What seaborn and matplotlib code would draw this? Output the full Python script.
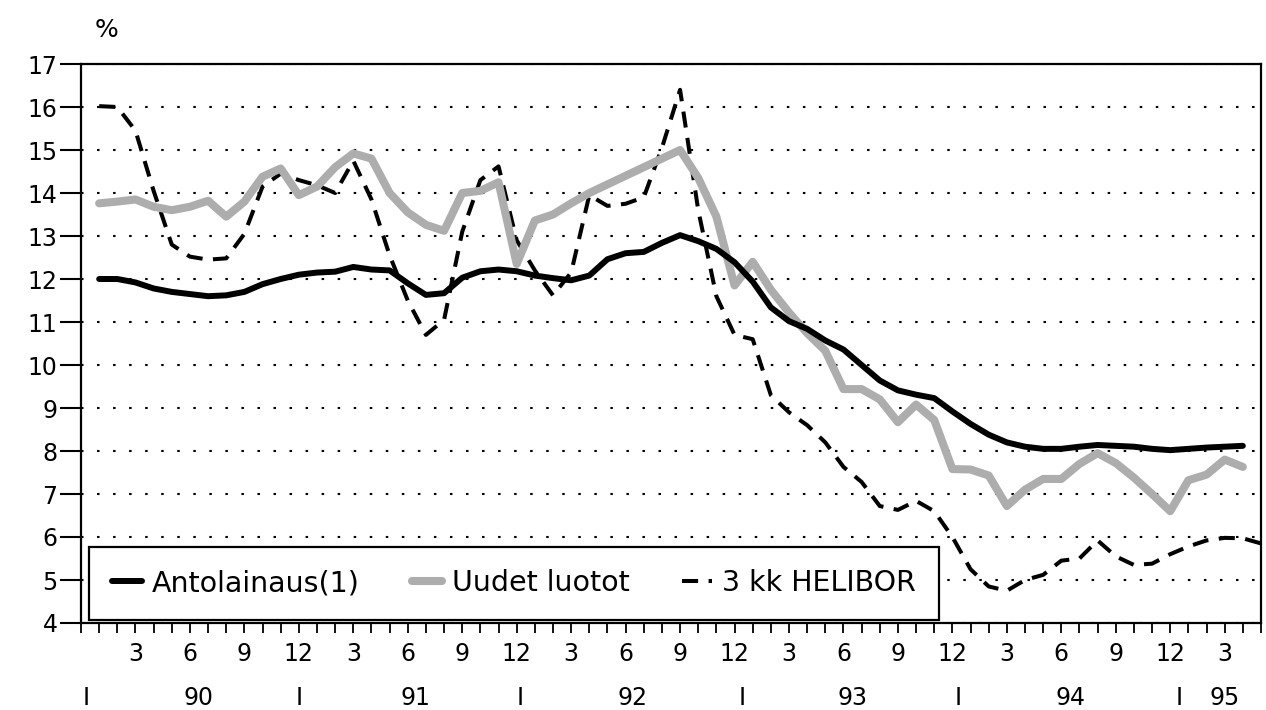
import numpy as np
import seaborn as sns
import matplotlib
matplotlib.use('Agg')
import matplotlib.pyplot as plt
from matplotlib.ticker import FixedLocator

# kuukausiarvot 1/1990 - 4/1995 (HELIBOR 5/1995 asti), %
antolainaus = [12.0, 12.0, 11.92, 11.78, 11.7, 11.65, 11.6, 11.62, 11.7, 11.88, 12.0, 12.1,
               12.15, 12.17, 12.28, 12.22, 12.2, 11.9, 11.63, 11.67, 12.03, 12.18, 12.22, 12.18,
               12.08, 12.02, 11.97, 12.08, 12.46, 12.6, 12.63, 12.84, 13.02, 12.88, 12.7, 12.39,
               11.94, 11.34, 11.02, 10.84, 10.57, 10.36, 10.0, 9.64, 9.41, 9.31, 9.23, 8.92,
               8.63, 8.38, 8.2, 8.1, 8.05, 8.05, 8.1, 8.14, 8.12, 8.1, 8.05, 8.02,
               8.05, 8.08, 8.1, 8.12]
uudet_luotot = [13.76, 13.8, 13.85, 13.68, 13.6, 13.68, 13.82, 13.45, 13.8, 14.38, 14.57, 13.95,
                14.15, 14.6, 14.92, 14.8, 14.0, 13.55, 13.26, 13.12, 14.0, 14.05, 14.25, 12.35,
                13.36, 13.5, 13.76, 14.0, 14.2, 14.4, 14.6, 14.8, 15.0, 14.35, 13.45, 11.85,
                12.4, 11.75, 11.22, 10.74, 10.33, 9.44, 9.44, 9.2, 8.67, 9.08, 8.72, 7.58,
                7.57, 7.43, 6.72, 7.1, 7.35, 7.35, 7.7, 7.95, 7.72, 7.38, 7.0, 6.6,
                7.32, 7.45, 7.8, 7.63]
helibor = [16.02, 16.0, 15.45, 14.05, 12.8, 12.52, 12.45, 12.48, 13.05, 14.15, 14.45, 14.3,
           14.18, 14.0, 14.75, 13.85, 12.55, 11.5, 10.7, 11.05, 13.1, 14.3, 14.62, 12.9,
           12.2, 11.62, 12.15, 13.95, 13.7, 13.75, 13.9, 15.05, 16.4, 13.6, 11.6, 10.7,
           10.6, 9.3, 8.9, 8.6, 8.2, 7.63, 7.28, 6.72, 6.63, 6.84, 6.6, 6.0,
           5.25, 4.85, 4.75, 5.0, 5.12, 5.45, 5.5, 5.92, 5.55, 5.35, 5.38, 5.6,
           5.78, 5.92, 5.98, 5.97, 5.85]

labels = ['Antolainaus(1)', 'Uudet luotot', '3 kk HELIBOR']
y_ticks = list(range(4, 18))
year_labels = ['90', '91', '92', '93', '94', '95']
year_label_x = [6.45, 18.4, 30.4, 42.5, 54.5, 63.0]
year_sep_x = [0.3, 12.0, 24.2, 36.4, 48.3, 60.5]

sns.set_style('white')
plt.rcParams['font.family'] = ['DejaVu Sans']
plt.rcParams['text.color'] = 'black'
plt.rcParams['xtick.color'] = 'black'
plt.rcParams['ytick.color'] = 'black'
plt.rcParams['axes.labelcolor'] = 'black'

fig = plt.figure(figsize=(12.66, 7.10), dpi=100)
ax = fig.add_axes([81 / 1266, 1 - 623 / 710, 1180 / 1266, 559 / 710])

kk_h = np.arange(1, len(helibor) + 1)
kk = np.arange(1, len(antolainaus) + 1)

sns.lineplot(x=kk_h, y=helibor, ax=ax, color='black', linewidth=2.9,
             linestyle=(0, (4, 2.6)), label=labels[2], zorder=3)
sns.lineplot(x=kk, y=uudet_luotot, ax=ax, color='#adadad', linewidth=5.8,
             label=labels[1], zorder=4)
sns.lineplot(x=kk, y=antolainaus, ax=ax, color='black', linewidth=4.3,
             label=labels[0], zorder=5)

ax.set_xlim(0, 65)
ax.set_ylim(4, 17)
ax.set_xlabel('')
ax.set_ylabel('')

ax.yaxis.set_major_locator(FixedLocator(y_ticks))
ax.set_yticklabels([str(v) for v in y_ticks])
ax.tick_params(axis='y', direction='out', length=15, width=1.5, pad=2,
               labelsize=17, colors='black', left=True)

xt = list(range(0, 66))
ax.xaxis.set_major_locator(FixedLocator(xt))
ax.set_xticklabels([str((p - 1) % 12 + 1) if p % 3 == 0 and p > 0 else '' for p in xt])
ax.tick_params(axis='x', direction='out', length=7, width=1.3, pad=7,
               labelsize=17, colors='black', bottom=True)

ax.yaxis.grid(True, color='black', linewidth=1.5, linestyle=(0, (1.2, 6.5)))
ax.xaxis.grid(False)
ax.set_axisbelow(True)
for s in ax.spines.values():
    s.set_visible(True)
    s.set_color('black')
    s.set_linewidth(1.6)

tr = ax.get_xaxis_transform()
for x in year_sep_x:
    ax.text(x, -0.134, 'I', transform=tr, ha='center', va='center', fontsize=17)
for x, t in zip(year_label_x, year_labels):
    ax.text(x, -0.134, t, transform=tr, ha='center', va='center', fontsize=17)

fig.text(106 / 1266, 1 - 30 / 710, '%', ha='center', va='center', fontsize=18)

h, l = ax.get_legend_handles_labels()
order = [l.index(n) for n in labels]
leg = ax.legend([h[i] for i in order], [l[i] for i in order], loc='lower left',
                bbox_to_anchor=(0.0068, 0.005), borderaxespad=0, ncol=3,
                fontsize=20.5, handlelength=1.05, handletextpad=0.35,
                columnspacing=1.85, borderpad=0.8, frameon=True, fancybox=False,
                framealpha=1, edgecolor='black')
leg.get_frame().set_linewidth(1.6)
leg.set_zorder(6)

fig.savefig('out.png', dpi=100)
